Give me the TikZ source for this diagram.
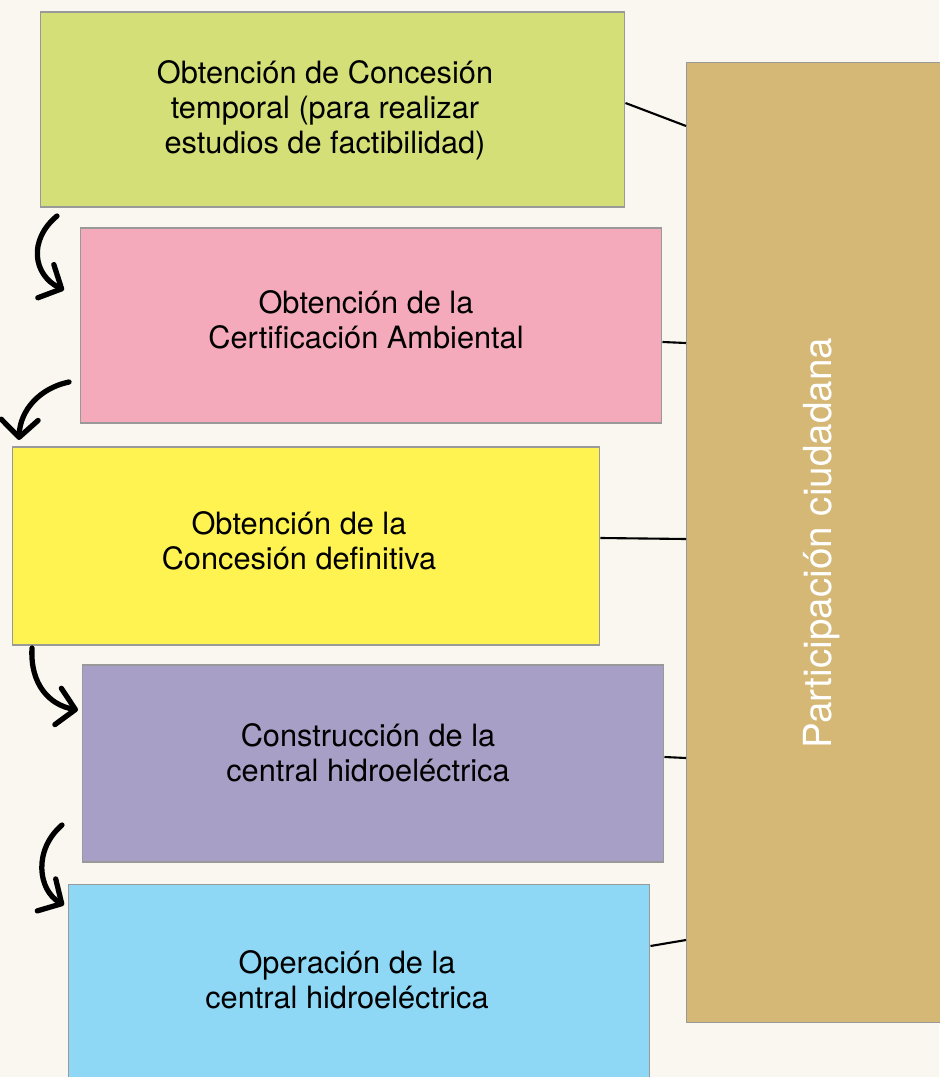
\documentclass[tikz,border=0pt]{standalone}
\usepackage{fontspec}
\setmainfont{TeX Gyre Heros}
\usetikzlibrary{arrows.meta}
\definecolor{bggray}{HTML}{FAF7F1}
\definecolor{stepgreen}{HTML}{D4E077}
\definecolor{steppink}{HTML}{F5AABB}
\definecolor{stepyellow}{HTML}{FFF352}
\definecolor{steppurple}{HTML}{A79FC5}
\definecolor{stepblue}{HTML}{8ED8F6}
\definecolor{parttan}{HTML}{D5B776}
\begin{document}
\begin{tikzpicture}[x=0.02cm, y=-0.02cm,
  stepbox/.style={draw=gray!80, line width=0.6pt, minimum width=11.64cm, minimum height=3.9cm},
  steptext/.style={align=center, font=\fontsize{17.5}{19.8}\selectfont},
  link/.style={line width=1.2pt},
  flow/.style={line width=3pt, line cap=round, -{Straight Barb[length=10pt, width=21pt, line width=3pt, round]}}]
\useasboundingbox (0,0) rectangle (939,1077);
\fill[bggray] (0,0) rectangle (939,1077);
\node[stepbox, fill=stepgreen, minimum width=11.7cm] (s1) at (332.5,109.5){};
\node[stepbox, fill=steppink] (s2) at (371,325.5){};
\node[stepbox, fill=stepyellow, minimum width=11.76cm, minimum height=3.96cm] (s3) at (306,546){};
\node[stepbox, fill=steppurple, minimum height=3.94cm] (s4) at (373,763.5){};
\node[stepbox, fill=stepblue] (s5) at (359,982){};
\node[steptext] (t1) at (325,110){Obtención de Concesión\\temporal (para realizar\\estudios de factibilidad)};
\node[steptext] (t2) at (366,320){Obtención de la\\Certificación Ambiental};
\node[steptext] (t3) at (299,541){Obtención de la\\Concesión definitiva};
\node[steptext] (t4) at (368,753){Construcción de la\\central hidroeléctrica};
\node[steptext] (t5) at (347,980){Operación de la\\central hidroeléctrica};
\node[draw=gray!80, line width=0.6pt, fill=parttan, minimum width=5.12cm, minimum height=19.22cm] (part) at (814,542.5){};
\node[rotate=90, white, font=\fontsize{22}{24}\selectfont] (partlabel) at (822,543){Participación ciudadana};
% connectors to the right block
\coordinate (p1) at (686,126);
\coordinate (p2) at (686,343);
\coordinate (p3) at (686,539);
\coordinate (p4) at (686,758);
\coordinate (p5) at (686,940);
\draw[link] (s1.east|-0,103) -- (p1);
\draw[link] (s2.east|-0,342) -- (p2);
\draw[link] (s3.east|-0,538) -- (p3);
\draw[link] (s4.east|-0,757) -- (p4);
\draw[link] (s5.east|-0,946) -- (p5);
% curved arrows
\coordinate (a1) at (57,216);
\coordinate (b1) at (64,290);
\coordinate (a2) at (69,382);
\coordinate (b2) at (19,440);
\coordinate (a3) at (32,648);
\coordinate (b3) at (78,710);
\coordinate (a4) at (62,825);
\coordinate (b4) at (64,905);
\draw[flow] (a1) .. controls (28,240) and (33,275) .. (b1);
\draw[flow] (a2) .. controls (40,388) and (20,410) .. (b2);
\draw[flow] (a3) .. controls (30,685) and (50,705) .. (b3);
\draw[flow] (a4) .. controls (33,850) and (38,890) .. (b4);
\end{tikzpicture}
\end{document}
